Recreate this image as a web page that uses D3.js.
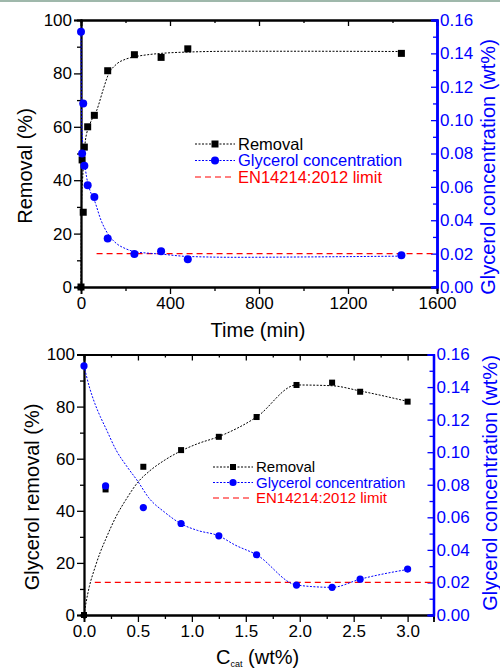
<!DOCTYPE html>
<html>
<head>
<meta charset="utf-8">
<script src="https://cdn.jsdelivr.net/npm/d3@7"></script>
<style>
  body { margin: 0; background: #fff; }
  text { font-family: "Liberation Sans", Arial, sans-serif; }
</style>
</head>
<body>
<div id="chart"></div>
<script>
// ---- top panel: time series ----
var timeMin = [0, 5, 10, 15, 30, 60, 120, 240, 360, 480, 1440];
var removalTime = [0, 47.6, 28, 52.4, 60, 64.3, 81, 87, 86, 89.2, 87.5];
var glycerolTime = [0.153, 0.080, 0.110, 0.0727, 0.061, 0.054, 0.029, 0.0198, 0.0214, 0.0166, 0.019];
// fitted curves
var fitTimeR = [0, 1, 3, 7, 12, 20, 40, 70, 100, 120, 160, 200, 240, 300, 360, 480, 700, 1000, 1440];
var fitRemovalTime = [0, 20, 33, 40, 47, 55, 61, 66, 74, 79, 83.5, 85.3, 86.2, 87, 87.5, 88, 88.3, 88.3, 88.2];
var fitTimeG = [0, 1, 3, 6, 10, 15, 25, 40, 60, 90, 120, 160, 200, 240, 300, 360, 480, 700, 1000, 1440];
var fitGlycerolTime = [0.153, 0.125, 0.100, 0.090, 0.083, 0.076, 0.066, 0.058, 0.052, 0.040, 0.032, 0.026, 0.023, 0.0212, 0.0203, 0.0197, 0.0183, 0.0178, 0.018, 0.0185];

// ---- bottom panel: catalyst loading ----
var catalyst = [0, 0.2, 0.55, 0.9, 1.25, 1.6, 1.97, 2.3, 2.56, 3.0];
var removalCat = [0, 48.2, 56.9, 63.3, 68.4, 76, 88.3, 89.2, 85.7, 81.9];
var glycerolCat = [0.153, 0.0793, 0.066, 0.0562, 0.0486, 0.037, 0.0184, 0.017, 0.022, 0.0282];
var fitCatR = [0, 0.02, 0.05, 0.1, 0.15, 0.2, 0.3, 0.4, 0.5, 0.6, 0.75, 0.9, 1.05, 1.25, 1.6, 1.97, 2.3, 2.56, 3.0];
var fitRemovalCat = [0, 5, 11, 18, 24, 29, 38, 45, 51, 55, 59.5, 63, 65.7, 68.5, 76, 88.3, 88, 86, 82];
var fitCatG = [0, 0.05, 0.1, 0.15, 0.2, 0.3, 0.4, 0.5, 0.6, 0.75, 0.9, 1.05, 1.25, 1.4, 1.6, 1.97, 2.3, 2.56, 3.0];
var fitGlycerolCat = [0.153, 0.140, 0.130, 0.122, 0.115, 0.101, 0.091, 0.082, 0.072, 0.063, 0.056, 0.052, 0.0486, 0.043, 0.037, 0.0184, 0.017, 0.022, 0.028];

var limitValue = 0.02;
var legendLabels = ['Removal', 'Glycerol concentration', 'EN14214:2012 limit'];

var W = 500, H = 668;
var svg = d3.select('#chart').append('svg').attr('width', W).attr('height', H);
svg.append('rect').attr('width', W).attr('height', H).attr('fill', '#fff');
svg.append('rect').attr('width', W).attr('height', 2).attr('fill', '#9fb8ab');

function panel(p) {
  var g = svg.append('g');
  var x = d3.scaleLinear().domain(p.xDomain).range([p.left, p.right]);
  var yL = d3.scaleLinear().domain([0, 100]).range([p.bottom, p.top]);
  var yR = d3.scaleLinear().domain([0, 0.16]).range([p.bottom, p.top]);

  // axes
  var minor = function(ax, vals) { return ax.tickValues(vals).tickFormat('').tickSize(4); };
  g.append('g').attr('transform', 'translate(0,' + p.bottom + ')')
    .call(minor(d3.axisBottom(x), p.xMinor));
  g.append('g').attr('class', 'lab').attr('transform', 'translate(0,' + p.bottom + ')')
    .call(d3.axisBottom(x).tickValues(p.xTicks).tickFormat(p.xFormat).tickSize(7).tickPadding(3));
  g.append('g').attr('transform', 'translate(0,' + p.top + ')')
    .call(minor(d3.axisBottom(x), p.xMinor).tickSize(3));
  g.append('g').attr('transform', 'translate(0,' + p.top + ')')
    .call(d3.axisBottom(x).tickValues(p.xTicks).tickFormat('').tickSize(6));
  g.append('g').attr('transform', 'translate(' + p.left + ',0)')
    .call(minor(d3.axisLeft(yL), d3.range(10, 100, 20)));
  g.append('g').attr('class', 'lab').attr('transform', 'translate(' + p.left + ',0)')
    .call(d3.axisLeft(yL).tickValues(d3.range(0, 101, 20)).tickSize(7).tickPadding(2));
  g.append('g').attr('class', 'blue').attr('transform', 'translate(' + p.right + ',0)')
    .call(minor(d3.axisLeft(yR), d3.range(0.01, 0.16, 0.02)));
  g.append('g').attr('class', 'blue lab').attr('transform', 'translate(' + p.right + ',0)')
    .call(d3.axisRight(yR).tickValues(d3.range(0, 0.161, 0.02)).tickFormat(d3.format('.2f')).tickSize(0).tickPadding(3));
  g.append('g').attr('class', 'blue').attr('transform', 'translate(' + p.right + ',0)')
    .call(d3.axisLeft(yR).tickValues(d3.range(0, 0.161, 0.02)).tickFormat('').tickSize(6));
  g.selectAll('.domain').attr('stroke', '#000').attr('stroke-width', 1.8);
  g.selectAll('.tick line').attr('stroke', '#000').attr('stroke-width', 1.3);
  g.selectAll('.blue .domain, .blue .tick line').attr('stroke', '#0000ff');
  g.selectAll('.blue .domain').attr('stroke-width', 2.2);
  g.selectAll('.lab text').attr('font-size', 17).attr('font-family', '"Liberation Sans", Arial, sans-serif').attr('fill', '#000');
  g.selectAll('.blue text').attr('fill', '#0000ff');

  // limit line
  g.append('line').attr('x1', x(p.limitFrom)).attr('x2', x(p.xDomain[1]) - 2)
    .attr('y1', yR(limitValue)).attr('y2', yR(limitValue))
    .attr('stroke', '#ff0000').attr('stroke-width', 1.2).attr('stroke-dasharray', '6,4');

  // fitted curves
  var lineR = d3.line().x(function(d) { return x(d[0]); }).y(function(d) { return yL(d[1]); }).curve(d3.curveMonotoneX);
  var lineG = d3.line().x(function(d) { return x(d[0]); }).y(function(d) { return yR(d[1]); }).curve(d3.curveMonotoneX);
  g.append('path').attr('d', lineG(d3.zip(p.fitXG, p.fitG))).attr('fill', 'none')
    .attr('stroke', '#0000ff').attr('stroke-width', 1).attr('stroke-dasharray', '2,1.5');
  g.append('path').attr('d', lineR(d3.zip(p.fitXR, p.fitR))).attr('fill', 'none')
    .attr('stroke', '#000').attr('stroke-width', 1).attr('stroke-dasharray', '2,1.5');

  // markers
  var s = p.sq;
  g.selectAll('rect.pt').data(d3.zip(p.xs, p.rem)).join('rect').attr('class', 'pt')
    .attr('x', function(d) { return x(d[0]) - s / 2; }).attr('y', function(d) { return yL(d[1]) - s / 2; })
    .attr('width', s).attr('height', s).attr('fill', '#000');
  g.selectAll('circle.pt').data(d3.zip(p.xs, p.gly)).join('circle').attr('class', 'pt')
    .attr('cx', function(d) { return x(d[0]); }).attr('cy', function(d) { return yR(d[1]); })
    .attr('r', p.cr).attr('fill', '#0000ff');

  // legend
  var lg = g.append('g').attr('transform', 'translate(' + p.legX + ',' + p.legY + ')');
  var colors = ['#000', '#0000ff', '#ff0000'];
  legendLabels.forEach(function(t, i) {
    var yy = i * p.legStep;
    lg.append('line').attr('x1', 0).attr('x2', 40).attr('y1', yy).attr('y2', yy)
      .attr('stroke', colors[i]).attr('stroke-width', i == 2 ? 1.2 : 1)
      .attr('stroke-dasharray', i == 2 ? '6,4' : '2,1.5');
    if (i == 0) lg.append('rect').attr('x', 20 - s / 2).attr('y', yy - s / 2).attr('width', s).attr('height', s).attr('fill', '#000');
    if (i == 1) lg.append('circle').attr('cx', 20).attr('cy', yy).attr('r', p.cr).attr('fill', '#0000ff');
    lg.append('text').attr('x', 43).attr('y', yy).attr('dy', '0.36em').attr('font-size', p.legFont)
      .attr('fill', colors[i]).text(t);
  });

  // titles
  g.append('text').attr('transform', 'translate(' + p.yTitleX + ',' + p.yTitleY + ') rotate(-90)')
    .attr('text-anchor', 'middle').attr('dy', '0.35em').attr('font-size', 20).text(p.yTitle);
  g.append('text').attr('transform', 'translate(' + p.rTitleX + ',' + p.rTitleY + ') rotate(-90)')
    .attr('text-anchor', 'middle').attr('dy', '0.35em').attr('font-size', 20).attr('fill', '#0000ff')
    .text('Glycerol concentration (wt%)');
  return g;
}

panel({
  xDomain: [0, 1600], left: 81, right: 437, top: 20, bottom: 287,
  xTicks: [0, 400, 800, 1200, 1600], xMinor: [200, 600, 1000, 1400], xFormat: d3.format('d'),
  limitFrom: 70,
  fitXR: fitTimeR, fitR: fitRemovalTime, fitXG: fitTimeG, fitG: fitGlycerolTime,
  xs: timeMin, rem: removalTime, gly: glycerolTime, sq: 7, cr: 4,
  legX: 195, legY: 144, legStep: 16.5, legFont: 16.5,
  yTitle: 'Removal (%)', yTitleX: 25, yTitleY: 166, rTitleX: 488, rTitleY: 167
});
svg.append('text').attr('x', 258).attr('y', 337).attr('text-anchor', 'middle')
  .attr('font-size', 20).text('Time (min)');

panel({
  xDomain: [0, 3.24], left: 84, right: 433.5, top: 354.5, bottom: 615,
  xTicks: [0, 0.5, 1, 1.5, 2, 2.5, 3], xMinor: [0.25, 0.75, 1.25, 1.75, 2.25, 2.75], xFormat: d3.format('.1f'),
  limitFrom: 0.1,
  fitXR: fitCatR, fitR: fitRemovalCat, fitXG: fitCatG, fitG: fitGlycerolCat,
  xs: catalyst, rem: removalCat, gly: glycerolCat, sq: 6, cr: 3.6,
  legX: 213, legY: 467, legStep: 15.5, legFont: 15,
  yTitle: 'Glycerol removal (%)', yTitleX: 32, yTitleY: 497, rTitleX: 490, rTitleY: 483
});
var xt = svg.append('text').attr('x', 216).attr('y', 664).attr('font-size', 20);
xt.append('tspan').text('C');
xt.append('tspan').attr('font-size', 9).attr('dy', 3).text('cat');
xt.append('tspan').attr('dy', -3).text(' (wt%)');
</script>
</body>
</html>
